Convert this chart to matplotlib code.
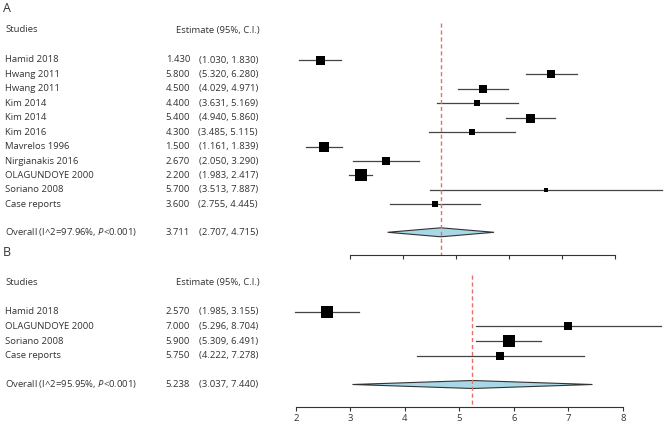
import matplotlib.pyplot as plt

plt.rcParams['font.family'] = ['Open Sans', 'DejaVu Sans']
plt.rcParams['mathtext.fontset'] = 'custom'
plt.rcParams['mathtext.rm'] = 'Open Sans'
plt.rcParams['mathtext.it'] = 'Open Sans:italic'

# Panel A data
studies_a = ["Hamid 2018", "Hwang 2011", "Hwang 2011", "Kim 2014", "Kim 2014", "Kim 2016",
             "Mavrelos 1996", "Nirgianakis 2016", "OLAGUNDOYE 2000", "Soriano 2008", "Case reports"]
est_a = [1.430, 5.800, 4.500, 4.400, 5.400, 4.300, 1.500, 2.670, 2.200, 5.700, 3.600]
lo_a = [1.030, 5.320, 4.029, 3.631, 4.940, 3.485, 1.161, 2.050, 1.983, 3.513, 2.755]
hi_a = [1.830, 6.280, 4.971, 5.169, 5.860, 5.115, 1.839, 3.290, 2.417, 7.887, 4.445]
weight_a = [9.0, 8.7, 8.7, 6.7, 9.0, 6.7, 9.3, 7.7, 12.0, 4.3, 6.7]
overall_a = (3.711, 2.707, 4.715)
overall_label_a = "Overall (I^2=97.96%, $P$<0.001)"
ticks_a = [2, 3, 4, 5, 6, 7]

# Panel B data
studies_b = ["Hamid 2018", "OLAGUNDOYE 2000", "Soriano 2008", "Case reports"]
est_b = [2.570, 7.000, 5.900, 5.750]
lo_b = [1.985, 5.296, 5.309, 4.222]
hi_b = [3.155, 8.704, 6.491, 7.278]
weight_b = [12.3, 7.7, 12.3, 7.7]
overall_b = (5.238, 3.037, 7.440)
overall_label_b = "Overall (I^2=95.95%, $P$<0.001)"
ticks_b = [2, 3, 4, 5, 6, 7, 8]

W, H = 667, 428
fig = plt.figure(figsize=(W / 100, H / 100), dpi=100)
txt_col = '#333333'
fs = 6.8


def put(x, y, s, ha='left', size=fs):
    fig.text(x / W, 1 - y / H, s, fontsize=size, color=txt_col, va='center', ha=ha)


def panel(letter, top, header_y, first_row, row_step, overall_y, bottom,
          line_top, xlim, studies, est, lo, hi, weight, overall, overall_label,
          ticks, show_labels, diamond_h):
    left_px = 285
    ax = fig.add_axes([left_px / W, 1 - bottom / H, (W - left_px) / W, (bottom - top) / H])
    ax.set_xlim(*xlim)
    ax.set_ylim(bottom, top)
    ax.patch.set_alpha(0)

    rows = [first_row + i * row_step for i in range(len(studies))]
    for y, e, l, h, w in zip(rows, est, lo, hi, weight):
        ax.plot([l, h], [y, y], color='#444444', lw=0.9, zorder=2)
        ax.plot(e, y, marker='s', color='black', ms=w * 0.72, mew=0, zorder=3)

    om, ol, oh = overall
    ax.fill([ol, om, oh, om], [overall_y, overall_y - diamond_h / 2, overall_y, overall_y + diamond_h / 2],
            facecolor='#a8d8e6', edgecolor='#333333', lw=0.8, zorder=3)
    ax.vlines(om, line_top, bottom, colors='#e8706a', linestyles=(0, (3, 2)), lw=1, zorder=4)

    for s in ['top', 'right', 'left']:
        ax.spines[s].set_visible(False)
    ax.spines['bottom'].set_bounds(ticks[0], ticks[-1])
    ax.spines['bottom'].set_color('#333333')
    ax.spines['bottom'].set_linewidth(0.8)
    ax.set_yticks([])
    ax.set_xticks(ticks)
    ax.tick_params(axis='x', direction='out', length=3, width=0.8, color='#333333',
                   labelsize=fs, labelcolor=txt_col, pad=2, labelbottom=show_labels)

    # left-side text columns
    put(3, top + 9, letter, size=9)
    put(5, header_y, "Studies")
    put(260, header_y, "Estimate (95%, C.I.)", ha='right')
    for y, s, e, l, h in zip(rows, studies, est, lo, hi):
        put(5, y, s)
        put(190, y, f"{e:.3f}", ha='right')
        put(258, y, f"({l:.3f}, {h:.3f})", ha='right')
    put(5, overall_y, overall_label)
    put(190, overall_y, f"{om:.3f}", ha='right')
    put(258, overall_y, f"({ol:.3f}, {oh:.3f})", ha='right')
    return ax


panel("A", 0, 30, 60, 14.43, 232.3, 255, 23, (0.77, 7.98),
      studies_a, est_a, lo_a, hi_a, weight_a, overall_a, overall_label_a, ticks_a, False, 9)
panel("B", 244, 282.5, 311.7, 14.67, 384.5, 406.7, 275, (1.80, 8.807),
      studies_b, est_b, lo_b, hi_b, weight_b, overall_b, overall_label_b, ticks_b, True, 8)

fig.savefig("out.png", dpi=100)
